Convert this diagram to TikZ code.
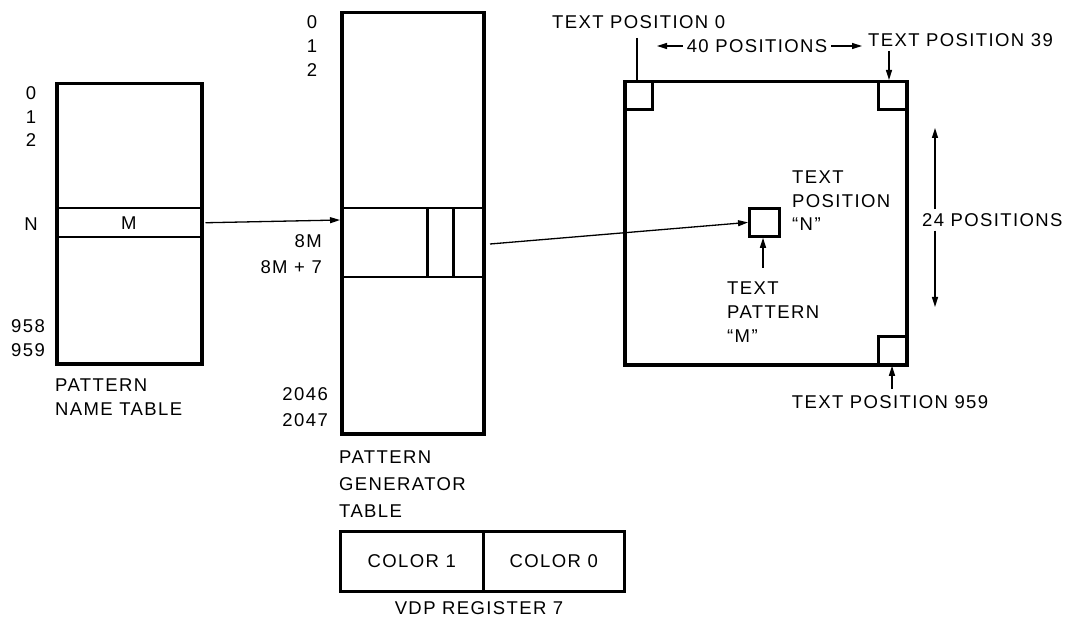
\documentclass[tikz,border=0pt]{standalone}
\usepackage{fontspec}
\setmainfont{Liberation Sans}[LetterSpace=7.5]
\usetikzlibrary{arrows.meta}
\begin{document}
\begin{tikzpicture}[x=1pt,y=-1pt,
  tbl/.style={draw, line width=3.5pt, inner sep=0, anchor=north west},
  row/.style={draw, line width=2.5pt, inner sep=0, anchor=north west},
  cell/.style={draw, line width=2.5pt, inner sep=0, anchor=north west},
  sqr/.style={draw, line width=2.8pt, inner sep=0, anchor=north west, minimum width=28, minimum height=28},
  lbl/.style={inner sep=0, font=\fontsize{18.5}{22}\selectfont},
  conn/.style={line width=1.3pt, -{Triangle[length=10pt,width=6pt]}},
  plain/.style={line width=1.3pt},
]
\useasboundingbox (0,0) rectangle (1076,620);

% pattern name table
\node[tbl, minimum width=145, minimum height=280] (pnt) at (55,82) {};
\node[row, minimum width=145, minimum height=29, lbl, anchor=north west] (pnrow) at (55,207) {M};
\node[lbl] (pn0) at (31,93) {0};
\node[lbl] (pn1) at (31,117) {1};
\node[lbl] (pn2) at (31,140) {2};
\node[lbl] (pnN) at (31,224) {N};
\node[lbl, anchor=east] (pn958) at (45,326) {958};
\node[lbl, anchor=east] (pn959) at (45,350) {959};
\node[lbl, anchor=west] (pnt1) at (55,385) {PATTERN};
\node[lbl, anchor=west] (pnt2) at (55,409) {NAME TABLE};

% pattern generator table
\node[tbl, minimum width=142, minimum height=421] (pgt) at (340,11) {};
\node[row, minimum width=142, minimum height=69] (pgrow) at (340,207) {};
\node[cell, minimum width=26, minimum height=69] (pgb1) at (426,207) {};
\node[cell, minimum width=30, minimum height=69] (pgb2) at (452,207) {};
\node[lbl] (pg0) at (312,22) {0};
\node[lbl] (pg1) at (312,46) {1};
\node[lbl] (pg2) at (312,70) {2};
\node[lbl, anchor=east] (pg8m) at (322,241) {8M};
\node[lbl, anchor=east] (pg8m7) at (322,267) {8M + 7};
\node[lbl, anchor=east] (pg2046) at (328,394) {2046};
\node[lbl, anchor=east] (pg2047) at (328,420) {2047};
\node[lbl, anchor=west] (pgt1) at (339,457) {PATTERN};
\node[lbl, anchor=west] (pgt2) at (339,484) {GENERATOR};
\node[lbl, anchor=west] (pgt3) at (339,511) {TABLE};

% VDP register 7
\node[tbl, line width=2.5pt, minimum width=143, minimum height=60, lbl, anchor=north west] (c1) at (339,530) {COLOR 1};
\node[tbl, line width=2.5pt, minimum width=141, minimum height=60, lbl, anchor=north west] (c0) at (482,530) {COLOR 0};
\node[lbl] (vdp) at (479,608) {VDP REGISTER 7};

% screen
\node[tbl, minimum width=282, minimum height=283] (scr) at (623,80) {};
\node[sqr] (sq0) at (623,80) {};
\node[sqr] (sq39) at (877,80) {};
\node[sqr] (sq959) at (877,335) {};
\node[sqr, minimum width=30] (sqn) at (748,207) {};

\node[lbl, anchor=west] (tp0) at (552,22) {TEXT POSITION 0};
\coordinate (tp0l) at (637,38);
\draw[plain] (tp0l) -- (tp0l |- sq0.north);

\node[lbl] (w40) at (757,46) {40 POSITIONS};
\coordinate (w40l) at (657,46);
\coordinate (w40r) at (862,46);
\draw[conn] ([xshift=-4pt]w40.west) -- (w40l);
\draw[conn] ([xshift=4pt]w40.east) -- (w40r);

\node[lbl, anchor=west] (tp39) at (868,40) {TEXT POSITION 39};
\coordinate (tp39a) at (889,51);
\draw[conn] (tp39a) -- (tp39a |- sq39.north);

\node[lbl, anchor=west] (h24) at (922,220) {24 POSITIONS};
\coordinate (h24t) at (935,128);
\coordinate (h24b) at (935,307);
\draw[conn] ([yshift=4pt]h24.north west -| h24t) -- (h24t);
\draw[conn] ([yshift=-4pt]h24.south west -| h24b) -- (h24b);

\node[lbl, anchor=west] (tpn1) at (792,177) {TEXT};
\node[lbl, anchor=west] (tpn2) at (792,201) {POSITION};
\node[lbl, anchor=west] (tpn3) at (792,224) {“N”};

\node[lbl, anchor=west] (tpm1) at (727,288) {TEXT};
\node[lbl, anchor=west] (tpm2) at (727,312) {PATTERN};
\node[lbl, anchor=west] (tpm3) at (727,336) {“M”};
\coordinate (tpma) at (763,268);
\draw[conn] (tpma) -- (tpma |- sqn.south);

\node[lbl] (tp959) at (890,402) {TEXT POSITION 959};
\coordinate (tp959a) at (892,389);
\draw[conn] (tp959a) -- (tp959a |- sq959.south);

% connectors
\coordinate (pgin) at (340,220);
\draw[conn] ([xshift=3pt]pnrow.east) -- (pgin);
\coordinate (pgout) at (490,244);
\draw[conn] (pgout) -- (sqn.west);
\end{tikzpicture}
\end{document}
